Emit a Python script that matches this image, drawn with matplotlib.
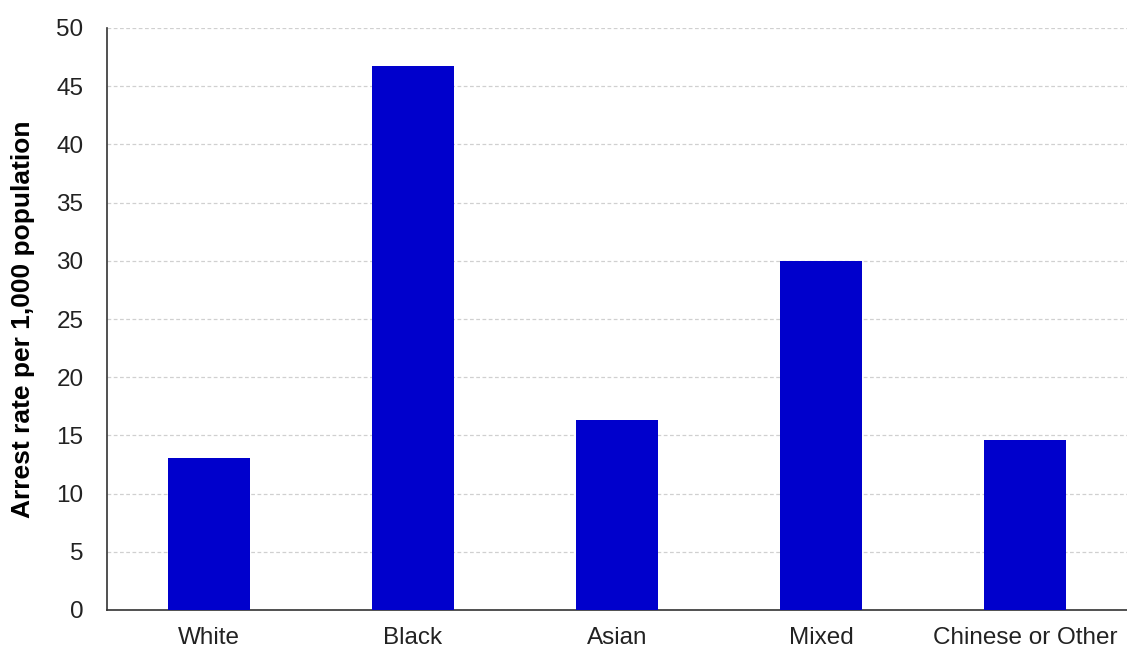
import matplotlib
matplotlib.use("Agg")
import matplotlib.pyplot as plt

categories = ["White", "Black", "Asian", "Mixed", "Chinese or Other"]
values = [13.1, 46.7, 16.3, 30.0, 14.6]
yticks = [0, 5, 10, 15, 20, 25, 30, 35, 40, 45, 50]

plt.rcParams['font.family'] = ['Liberation Sans', 'DejaVu Sans']

fig = plt.figure(figsize=(11.27, 6.53), dpi=100)
ax = fig.add_axes([107/1127, 43/653, 1 - 107/1127, (610-28)/653])

x = range(len(categories))
ax.bar(x, values, width=0.4, color="#0000CC", zorder=3)
ax.set_xlim(-0.5, 4.5)
ax.set_ylim(0, 50)
ax.set_yticks(yticks)
ax.set_xticks(list(x))
ax.set_xticklabels(categories)
ax.tick_params(axis='both', length=0, labelsize=17.5, colors="#222222")
ax.tick_params(axis='x', pad=12)
ax.tick_params(axis='y', pad=17)
ax.yaxis.grid(True, linestyle=(0, (3, 2)), color="#d0d0d0", linewidth=0.9, zorder=0)
ax.set_axisbelow(True)
for s in ["top", "right"]:
    ax.spines[s].set_visible(False)
for s in ["left", "bottom"]:
    ax.spines[s].set_color("#333333")
    ax.spines[s].set_linewidth(1.2)
ax.set_ylabel("Arrest rate per 1,000 population", fontsize=19, fontweight="bold")
ax.yaxis.set_label_coords(-0.071, 0.5)

fig.savefig("out.png", dpi=100)
